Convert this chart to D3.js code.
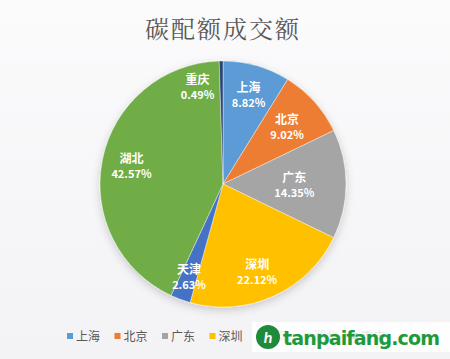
<!DOCTYPE html>
<html><head><meta charset="utf-8">
<script src="https://cdn.jsdelivr.net/npm/d3@7"></script>
<style>body{margin:0;background:#fff}svg{display:block}</style>
</head><body>
<script>
const categories = ["上海","北京","广东","深圳","天津","湖北","重庆"];
const values = [8.82, 9.02, 14.35, 22.12, 2.63, 42.57, 0.49];
const labels = ["8.82%","9.02%","14.35%","22.12%","2.63%","42.57%","0.49%"];
const colors = ["#5B9BD5","#ED7D31","#A5A5A5","#FFC000","#4472C4","#70AD47","#264478"];
const title = "碳配额成交额";

const W = 450, H = 359;
const svg = d3.select("body").append("svg").attr("width", W).attr("height", H);
const defs = svg.append("defs");
const bg = defs.append("linearGradient").attr("id","bg").attr("x1",0).attr("y1",0).attr("x2",0).attr("y2",1);
bg.append("stop").attr("offset",0).attr("stop-color","#fbfbfc");
bg.append("stop").attr("offset",1).attr("stop-color","#f3f3f6");
svg.append("rect").attr("width",W).attr("height",H).attr("fill","url(#bg)");
const f = defs.append("filter").attr("id","sh").attr("x","-20%").attr("y","-20%").attr("width","140%").attr("height","140%");
f.append("feDropShadow").attr("dx",0).attr("dy",3).attr("stdDeviation",4).attr("flood-color","#000").attr("flood-opacity",0.18);

svg.append("text").attr("x",223).attr("y",38).attr("text-anchor","middle")
  .attr("font-family","'Noto Serif CJK SC','Noto Sans CJK SC',sans-serif").attr("font-size",24)
  .attr("letter-spacing",2)
  .attr("fill","#595959").text(title);

const cx = 223, cy = 184, r = 123;
const pie = d3.pie().sort(null).value(d => d)(values);
const arc = d3.arc().innerRadius(0).outerRadius(r);
const g = svg.append("g").attr("transform",`translate(${cx},${cy})`);
g.append("g").attr("filter","url(#sh)").selectAll("path").data(pie).join("path")
  .attr("d", arc).attr("fill",(d,i)=>colors[i]).attr("stroke","#fff").attr("stroke-width",0.4);

// label radius factors (Excel best-fit style placement)
const lr = [0.76, 0.70, 0.58, 0.76, 0.80, 0.76, 0.82];
const angShift = [0, 0, 0, 0.05, 0, 0, -0.24];
const lab = g.append("g").attr("font-family","'Noto Sans CJK SC',sans-serif").attr("fill","#fff")
  .attr("text-anchor","middle").attr("font-weight","bold");
pie.forEach((d,i)=>{
  const a = (d.startAngle + d.endAngle)/2 + angShift[i];
  const rr = r*lr[i];
  const x = Math.sin(a)*rr, y = -Math.cos(a)*rr;
  lab.append("text").attr("x",x).attr("y",y-2).attr("font-size",12).text(categories[i]);
  lab.append("text").attr("x",x).attr("y",y+13).attr("font-size",11).text(labels[i]);
});

// legend
const lg = svg.append("g").attr("font-family","'Noto Sans CJK SC',sans-serif").attr("font-size",12).attr("fill","#595959");
categories.forEach((c,i)=>{
  const x = 67 + i*47.5;
  lg.append("rect").attr("x",x).attr("y",333).attr("width",6).attr("height",6).attr("fill",colors[i]);
  lg.append("text").attr("x",x+9).attr("y",340.5).text(c);
});

// watermark
const wm = svg.append("g");
wm.append("rect").attr("x",252).attr("y",322).attr("width",198).attr("height",30).attr("fill","#fff").attr("opacity",0.85);
wm.append("circle").attr("cx",268).attr("cy",337).attr("r",12).attr("fill","#1f8a3a");
wm.append("text").attr("x",268).attr("y",343).attr("text-anchor","middle").attr("font-family","Lato,sans-serif")
  .attr("font-weight","bold").attr("font-style","italic").attr("font-size",16).attr("fill","#fff").text("h");
wm.append("text").attr("x",283).attr("y",345).attr("font-family","'DejaVu Sans',sans-serif").attr("font-weight","bold")
  .attr("font-size",19).attr("fill","#1e9a3c").attr("textLength",157).text("tanpaifang.com");
</script>
</body></html>
